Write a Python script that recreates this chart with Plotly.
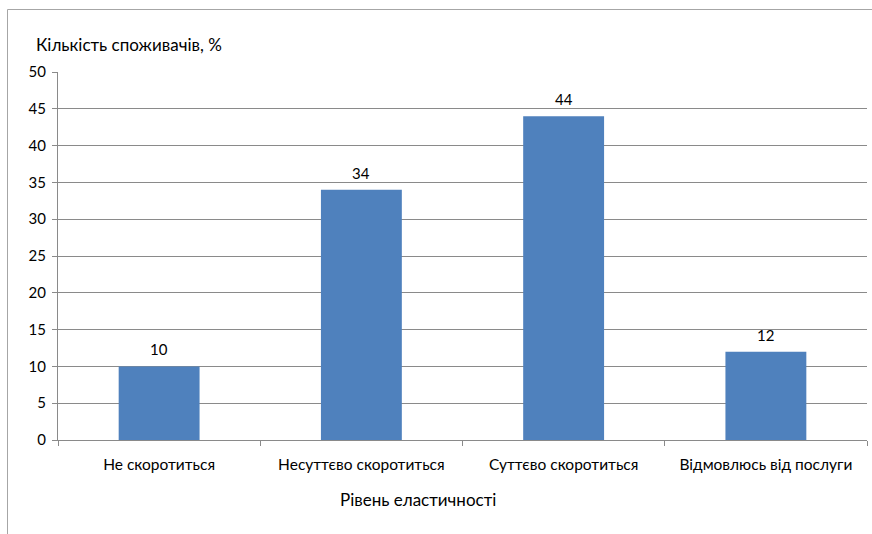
import plotly.graph_objects as go

categories = ["Не скоротиться", "Несуттєво скоротиться", "Суттєво скоротиться", "Відмовлюсь від послуги"]
values = [10, 34, 44, 12]
y_ticks = [0, 5, 10, 15, 20, 25, 30, 35, 40, 45, 50]

FONT = "Lato"
GRID = "#8a8a8a"

fig = go.Figure()
fig.add_trace(go.Bar(
    x=categories, y=values,
    marker=dict(color="#4F81BD", line=dict(width=0)),
    width=0.4,
    hoverinfo="x+y",
))

for c, v in zip(categories, values):
    fig.add_annotation(x=c, y=v, text=str(v), showarrow=False,
                       yanchor="bottom", yshift=6,
                       font=dict(family=FONT, size=15, color="#000"))

L, R, T, B = 58, 867, 72, 440
W, H = R - L, B - T

def px(xp):
    return (xp - L) / W

def py(yp):
    return (B - yp) / H

fig.add_annotation(xref="paper", yref="paper", x=px(34), y=py(44),
                   text="Кількість споживачів, %", showarrow=False,
                   xanchor="left", yanchor="middle",
                   font=dict(family=FONT, size=17, color="#000"))
fig.add_annotation(xref="paper", yref="paper", x=px(418), y=py(499),
                   text="Рівень еластичності", showarrow=False,
                   xanchor="center", yanchor="middle",
                   font=dict(family=FONT, size=17, color="#000"))

fig.add_shape(type="path", xref="paper", yref="paper",
              path=f"M {px(7.5)} {py(545)} L {px(7.5)} {py(9.5)} L {px(880)} {py(9.5)}",
              line=dict(color="#a6a6a6", width=1))

fig.update_layout(
    width=872, height=534,
    margin=dict(l=L, r=872 - R, t=T, b=534 - B),
    paper_bgcolor="white", plot_bgcolor="white",
    showlegend=False,
    bargap=0.6,
    font=dict(family=FONT, size=15, color="#000"),
    xaxis=dict(
        type="category", tickson="boundaries", ticks="outside", ticklen=5,
        tickcolor=GRID, showline=True, linecolor=GRID, linewidth=1,
        showgrid=False, tickfont=dict(family=FONT, size=15.5, color="#000"),
        ticklabelstandoff=10,
    ),
    yaxis=dict(
        range=[0, 50], tickvals=y_ticks, ticks="outside", ticklen=5,
        tickcolor=GRID, showline=True, linecolor=GRID, linewidth=1,
        showgrid=True, gridcolor=GRID, gridwidth=1, zeroline=False,
        tickfont=dict(family=FONT, size=15, color="#000"), ticklabelstandoff=3,
    ),
)

fig.write_html("out.html")
